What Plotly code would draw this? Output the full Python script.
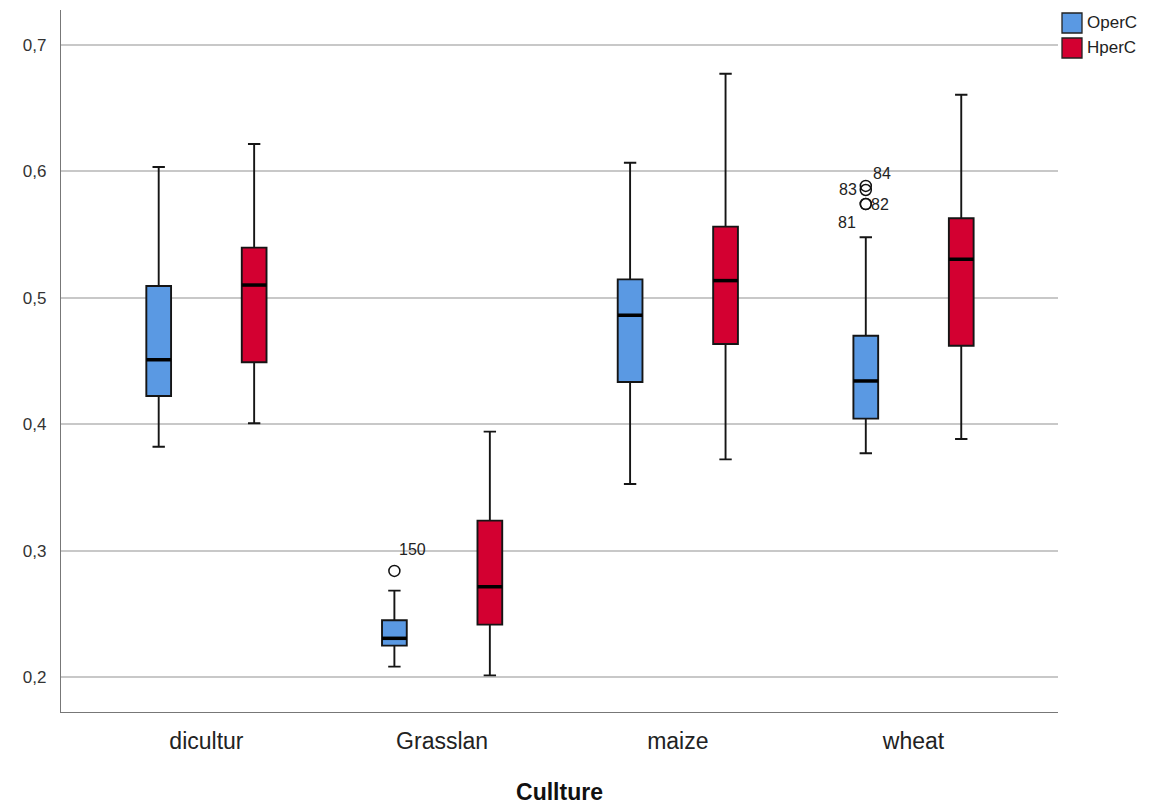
import plotly.graph_objects as go

categories = ["dicultur", "Grasslan", "maize", "wheat"]
series_names = ["OperC", "HperC"]

# OperC box stats
oper_lower = [0.3822, 0.2082, 0.3527, 0.3770]
oper_q1 = [0.4223, 0.2248, 0.4334, 0.4044]
oper_median = [0.4510, 0.2306, 0.4862, 0.4342]
oper_q3 = [0.5093, 0.2449, 0.5146, 0.4700]
oper_upper = [0.6035, 0.2683, 0.6069, 0.5479]

# HperC box stats
hper_lower = [0.4007, 0.2013, 0.3722, 0.3883]
hper_q1 = [0.4490, 0.2414, 0.4634, 0.4621]
hper_median = [0.5101, 0.2714, 0.5136, 0.5305]
hper_q3 = [0.5397, 0.3237, 0.5563, 0.5629]
hper_upper = [0.6217, 0.3941, 0.6773, 0.6607]

# Outliers (OperC)
outlier_cat = ["Grasslan", "wheat", "wheat", "wheat", "wheat"]
outlier_val = [0.2839, 0.5885, 0.5853, 0.5742, 0.5742]
outlier_id = ["150", "84", "83", "82", "81"]
outlier_label_shift = [(18, 21), (16, 12), (-18, 0), (14, 0), (-19, -18)]

y_ticks = [0.2, 0.3, 0.4, 0.5, 0.6, 0.7]
y_tick_text = ["0,2", "0,3", "0,4", "0,5", "0,6", "0,7"]

colors = ["#5A99E3", "#D30031"]
offset = 0.2025
box_w = 0.105

fig = go.Figure()
stats = [
    (oper_lower, oper_q1, oper_median, oper_q3, oper_upper),
    (hper_lower, hper_q1, hper_median, hper_q3, hper_upper),
]
for s, (lo, q1, med, q3, up) in enumerate(stats):
    xs = [i + (offset if s else -offset) for i in range(len(categories))]
    fig.add_trace(go.Box(
        x=xs, q1=q1, median=med, q3=q3, lowerfence=lo, upperfence=up,
        width=box_w, whiskerwidth=0.5, fillcolor=colors[s],
        line=dict(color="#151515", width=1.9),
        name=series_names[s], showlegend=False, boxpoints=False,
        hoverinfo="skip",
    ))
    # thick median lines
    mx, my = [], []
    for x, m in zip(xs, med):
        mx += [x - box_w / 2, x + box_w / 2, None]
        my += [m, m, None]
    fig.add_trace(go.Scatter(x=mx, y=my, mode="lines",
                             line=dict(color="black", width=3.5),
                             showlegend=False, hoverinfo="skip"))

ox = [categories.index(c) - offset for c in outlier_cat]
fig.add_trace(go.Scatter(
    x=ox, y=outlier_val, mode="markers",
    marker=dict(symbol="circle-open", size=11, color="#111", line=dict(width=1.5)),
    showlegend=False, hoverinfo="skip"))
for x, y, t, (dx, dy) in zip(ox, outlier_val, outlier_id, outlier_label_shift):
    fig.add_annotation(x=x, y=y, text=t, showarrow=False, xshift=dx, yshift=dy,
                       font=dict(family="Liberation Sans, Arial", size=16, color="#222"))

# legend drawn manually
leg_y = [13, 38]
for s in range(2):
    fig.add_shape(type="rect", xref="paper", yref="paper",
                  x0=(1062 - 61) / 997, x1=(1082 - 61) / 997,
                  y0=(712 - leg_y[s] - 20) / 702, y1=(712 - leg_y[s]) / 702,
                  fillcolor=colors[s], line=dict(color="#222", width=1.3))
    fig.add_annotation(xref="paper", yref="paper",
                       x=(1085 - 61) / 997, y=(712 - leg_y[s] - 10) / 702,
                       xanchor="left", yanchor="middle", text=series_names[s],
                       showarrow=False,
                       font=dict(family="Liberation Sans, Arial", size=17, color="#222"))

fig.update_layout(
    width=1166, height=805,
    margin=dict(l=61, r=108, t=10, b=93),
    paper_bgcolor="white", plot_bgcolor="white",
    boxmode="overlay",
    font=dict(family="Liberation Sans, Arial", color="#222"),
    xaxis=dict(range=[-0.617, 3.613], tickvals=list(range(len(categories))),
               ticktext=categories, showgrid=False, zeroline=False,
               showline=True, linecolor="#777", linewidth=1.3, automargin=False,
               ticks="", ticklabelstandoff=8, tickfont=dict(size=23, color="#222"),
               title=dict(text="<b>Cullture</b>", font=dict(size=23, color="#111"), standoff=36)),
    yaxis=dict(range=[0.1723, 0.7277], tickvals=y_ticks, ticktext=y_tick_text,
               showgrid=True, gridcolor="#c8c8c8", gridwidth=2, zeroline=False,
               showline=True, linecolor="#777", linewidth=1.3, automargin=False,
               ticks="", ticklabelstandoff=10, tickfont=dict(size=17, color="#333")),
)

fig.write_html("out.html")
